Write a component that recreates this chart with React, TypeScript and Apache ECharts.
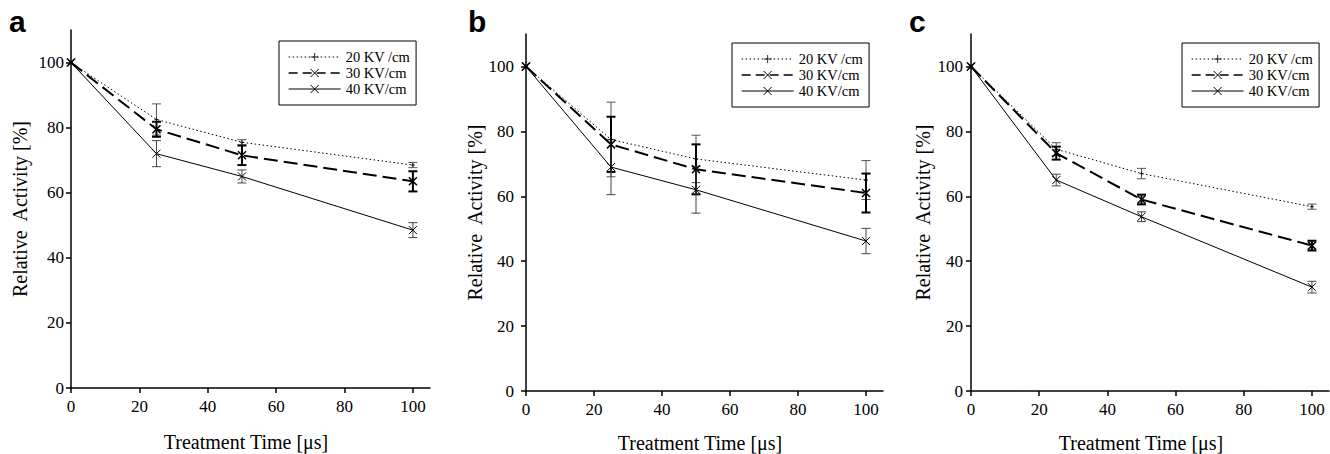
import React, { useEffect, useRef } from 'react';
import * as echarts from 'echarts';

// ---- data ----
const times = [0, 25, 50, 100];
const seriesNames = ['20 KV /cm', '30 KV/cm', '40 KV/cm'];
const panelLabels = ['a', 'b', 'c'];
const xTicks = [0, 20, 40, 60, 80, 100];
const yTicks = [0, 20, 40, 60, 80, 100];
const xTitle = 'Treatment Time [μs]';
const yTitle = 'Relative  Activity [%]';

const a20 = [100, 82.5, 75.5, 68.5];
const a20Err = [0, 4.8, 0.8, 0.8];
const a30 = [100, 79.5, 71.5, 63.5];
const a30Err = [0, 2.3, 3, 3.1];
const a40 = [100, 72, 65, 48.5];
const a40Err = [0, 4, 2, 2.3];

const b20 = [100, 77.5, 71.5, 65];
const b20Err = [0, 11.5, 7.3, 6];
const b30 = [100, 76, 68.3, 61];
const b30Err = [0, 8.5, 7.7, 6];
const b40 = [100, 69, 62, 46.2];
const b40Err = [0, 8.5, 7.2, 3.9];

const c20 = [100, 74.5, 67, 56.8];
const c20Err = [0, 2, 1.6, 0.8];
const c30 = [100, 73.3, 59, 44.8];
const c30Err = [0, 2, 1.5, 1.5];
const c40 = [100, 65, 53.7, 32];
const c40Err = [0, 1.8, 1.5, 1.8];

const panelValues = [
  [a20, a30, a40],
  [b20, b30, b40],
  [c20, c30, c40],
];
const panelErrors = [
  [a20Err, a30Err, a40Err],
  [b20Err, b30Err, b40Err],
  [c20Err, c30Err, c40Err],
];

// ---- layout / style ----
const SERIF = '"Liberation Serif", "Times New Roman", serif';
const grids = [
  { left: 71, top: 30, width: 359, height: 358 },
  { left: 526, top: 34, width: 357, height: 357 },
  { left: 971, top: 34, width: 358, height: 357 },
];
const legendPos = [
  { left: 279, top: 41 },
  { left: 732, top: 43 },
  { left: 1182, top: 43 },
];
const yNameGap = [41, 36, 38];
const xNameGap = [44, 42, 42];
const yLabelMargin = [7, 12, 8];
const xNameShift = [9, 9, 18];
const letterPos = [
  { x: 9, y: 6 },
  { x: 468, y: 6 },
  { x: 909, y: 6 },
];

const X_PATH = 'path://M0 0L10 10M10 0L0 10';
const PLUS_PATH = 'path://M5 0L5 10M0 5L10 5';

const lineStyles = [
  { color: '#000', width: 1, type: [1.5, 2.5] },
  { color: '#000', width: 2, type: [14, 6] },
  { color: '#000', width: 1, type: 'solid' },
];
const legendLineStyles = [
  { color: '#000', width: 1, type: [1.5, 2.5] },
  { color: '#000', width: 1.3, type: [9, 5] },
  { color: '#000', width: 1, type: 'solid' },
];
const symbols = [
  { symbol: PLUS_PATH, symbolSize: 4, borderWidth: 0.8 },
  { symbol: X_PATH, symbolSize: 8, borderWidth: 1.5 },
  { symbol: X_PATH, symbolSize: 8, borderWidth: 1 },
];
const errStyles = [
  { color: '#555', width: 1 },
  { color: '#000', width: 2 },
  { color: '#444', width: 1 },
];

function errSeries(p: number, s: number) {
  const vals = panelValues[p][s];
  const errs = panelErrors[p][s];
  const data = times
    .map((t, i) => [t, vals[i] - errs[i], vals[i] + errs[i]])
    .filter((_, i) => errs[i] > 0);
  const st = errStyles[s];
  return {
    type: 'custom',
    xAxisIndex: p,
    yAxisIndex: p,
    silent: true,
    z: 2,
    encode: { x: 0, y: [1, 2] },
    data,
    renderItem: (_params: any, api: any) => {
      const x = api.value(0);
      const lo = api.value(1);
      const hi = api.value(2);
      const p1 = api.coord([x, hi]);
      const p2 = api.coord([x, lo]);
      const w = 4.5;
      const style = { stroke: st.color, lineWidth: st.width, fill: 'none' };
      return {
        type: 'group',
        children: [
          { type: 'line', shape: { x1: p1[0], y1: p1[1], x2: p2[0], y2: p2[1] }, style },
          { type: 'line', shape: { x1: p1[0] - w, y1: p1[1], x2: p1[0] + w, y2: p1[1] }, style },
          { type: 'line', shape: { x1: p2[0] - w, y1: p2[1], x2: p2[0] + w, y2: p2[1] }, style },
        ],
      };
    },
  };
}

function lineSeries(p: number, s: number) {
  const vals = panelValues[p][s];
  const sym = symbols[s];
  return {
    type: 'line',
    name: seriesNames[s],
    xAxisIndex: p,
    yAxisIndex: p,
    z: 3,
    data: times.map((t, i) => [t, vals[i]]),
    symbol: sym.symbol,
    symbolSize: sym.symbolSize,
    showSymbol: true,
    lineStyle: lineStyles[s],
    itemStyle: { color: 'none', borderColor: '#000', borderWidth: sym.borderWidth },
    emphasis: { disabled: true },
  };
}

export default function App() {
  const ref = useRef<HTMLDivElement>(null);
  useEffect(() => {
    if (!ref.current) return;
    const chart = echarts.init(ref.current, undefined, { renderer: 'svg' });
    const axisLineStyle = { color: '#000', width: 1.5 };
    const option: any = {
      animation: false,
      textStyle: { fontFamily: SERIF },
      grid: grids.map((g) => ({ ...g, containLabel: false, outerBoundsMode: 'none' })),
      xAxis: grids.map((_, p) => ({
        type: 'value',
        gridIndex: p,
        min: 0,
        max: 105,
        axisLine: { show: true, onZero: false, lineStyle: axisLineStyle },
        axisTick: { show: true, customValues: xTicks, length: 5, lineStyle: axisLineStyle },
        axisLabel: {
          customValues: xTicks,
          fontFamily: SERIF,
          fontSize: 17,
          color: '#000',
          margin: 10,
        },
        splitLine: { show: false },
        name: xTitle,
        nameLocation: 'middle',
        nameGap: xNameGap[p],
        nameTextStyle: {
          fontFamily: SERIF,
          fontSize: 20,
          color: '#000',
          padding: [0, xNameShift[p], 0, 0],
        },
      })),
      yAxis: grids.map((_, p) => ({
        type: 'value',
        gridIndex: p,
        min: 0,
        max: 110,
        axisLine: { show: true, onZero: false, lineStyle: axisLineStyle },
        axisTick: { show: true, customValues: yTicks, length: 5, lineStyle: axisLineStyle },
        axisLabel: {
          customValues: yTicks,
          fontFamily: SERIF,
          fontSize: 17,
          color: '#000',
          margin: yLabelMargin[p],
        },
        splitLine: { show: false },
        name: yTitle,
        nameLocation: 'middle',
        nameGap: yNameGap[p],
        nameTextStyle: { fontFamily: SERIF, fontSize: 20, color: '#000' },
      })),
      legend: legendPos.map((lp) => ({
        ...lp,
        orient: 'vertical',
        data: seriesNames.map((n, s) => ({
          name: n,
          lineStyle: legendLineStyles[s],
          itemStyle: { color: 'none', borderColor: '#000', borderWidth: s === 0 ? 0.8 : 1 },
        })),
        itemWidth: 52,
        itemHeight: 10,
        itemGap: 0,
        padding: [8, 6, 8, 9],
        borderColor: '#000',
        borderWidth: 1,
        selectedMode: false,
        textStyle: { fontFamily: SERIF, fontSize: 14.5, color: '#000', lineHeight: 16 },
      })),
      graphic: panelLabels.map((l, p) => ({
        type: 'text',
        x: letterPos[p].x,
        y: letterPos[p].y,
        style: {
          text: l,
          font: 'bold 30px "Liberation Sans", Arial, sans-serif',
          fill: '#000',
          verticalAlign: 'top',
        },
      })),
      series: [
        ...[0, 1, 2].flatMap((p) => [0, 1, 2].map((s) => errSeries(p, s))),
        ...[0, 1, 2].flatMap((p) => [0, 1, 2].map((s) => lineSeries(p, s))),
      ],
    };
    chart.setOption(option);
    return () => chart.dispose();
  }, []);
  return (
    <div
      ref={ref}
      style={{ position: 'fixed', left: 0, top: 0, width: 1330, height: 454, background: '#fff' }}
    />
  );
}
